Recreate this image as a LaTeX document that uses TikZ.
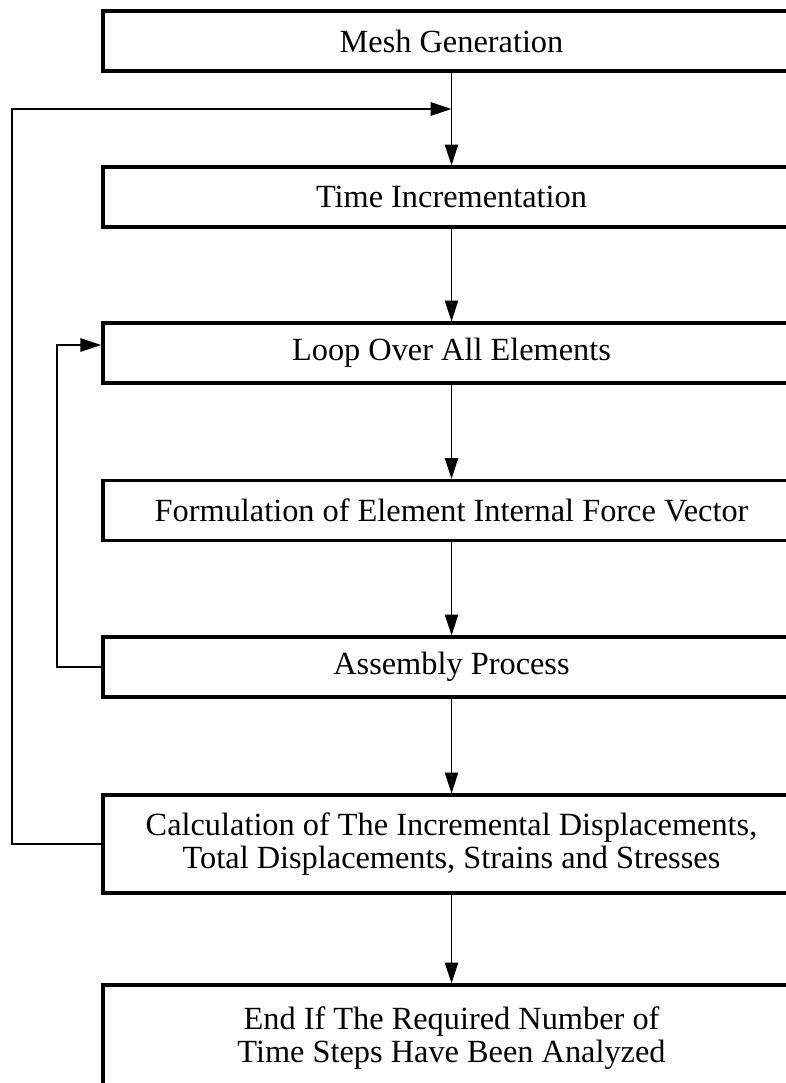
\documentclass[tikz,border=0pt]{standalone}
\usepackage{fontspec}
\setmainfont{Liberation Serif}
\usetikzlibrary{arrows.meta}

\begin{document}
\begin{tikzpicture}[x=0.025cm, y=-0.025cm,
	box/.style={draw, line width=2.3pt, rectangle, minimum width=17.425cm, minimum height=1.5cm,
		align=center, inner sep=0pt, font=\fontsize{23}{23.5}\selectfont},
	flow/.style={line width=1.4pt, -{Triangle[length=0.52cm, width=0.33cm]}}]
	% page frame, boxes run off the right and bottom edges
	\useasboundingbox (0,0) rectangle (786,1083);
	\clip (0,0) rectangle (786,1083);

	\node[box] (mesh) at (451.5,41) {Mesh Generation};
	\node[box] (time) at (451.5,197) {Time Incrementation};
	\node[box] (loop) at (451.5,353) {Loop Over All Elements};
	\node[box] (form) at (451.5,510.5) {Formulation of Element Internal Force Vector};
	\node[box] (asm) at (451.5,667) {Assembly Process};
	\node[box, minimum height=2.45cm] (calc) at (451.5,844)
		{Calculation of The Incremental Displacements,\\ Total Displacements, Strains and Stresses};
	\node[box, minimum height=2.65cm] (end) at (451.5,1038)
		{End If The Required Number of\\ Time Steps Have Been Analyzed};

	\coordinate (join) at (451.5,109);

	\draw[flow] (mesh) -- (time);
	\draw[flow] (time) -- (loop);
	\draw[flow] (loop) -- (form);
	\draw[flow] (form) -- (asm);
	\draw[flow] (asm) -- (calc);
	\draw[flow] (calc) -- (end);

	% element loop and time step loop
	\draw[flow] (asm.west) -- ++(-44,0) |- ([yshift=0.2cm]loop.west);
	\draw[flow] (calc.west) -- ++(-89,0) |- (join);
\end{tikzpicture}
\end{document}
